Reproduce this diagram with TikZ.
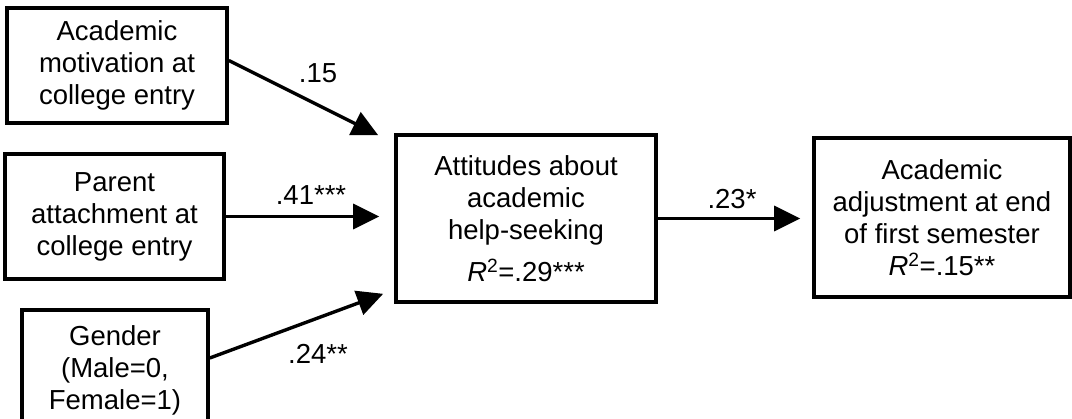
\documentclass[tikz,border=0pt]{standalone}
\usepackage{fontspec}
\setmainfont{Liberation Sans}
\usepackage{tikz}
\usetikzlibrary{arrows.meta}

\begin{document}
\begin{tikzpicture}[x=1pt,y=-1pt,
    caja/.style={draw,line width=3.6pt,inner sep=0pt,align=center,font=\fontsize{27.5}{32}\selectfont},
    flecha/.style={line width=3.4pt,-{Triangle[length=26pt,width=25pt]}},
    etiq/.style={font=\fontsize{27.5}{32}\selectfont}]
    \useasboundingbox (0,0) rectangle (1072,419); %Marco de la figura

    %Cajas de la izquierda
    \node[caja,minimum width=220pt,minimum height=115pt] (motiv) at (117,65.5) {Academic\\motivation at\\college entry}; %Motivacion
    \node[caja,minimum width=219pt,minimum height=125pt] (parent) at (114.5,216.5) {Parent\\attachment at\\college entry}; %Apego
    \node[caja,minimum width=186pt,minimum height=120pt] (gender) at (115,370) {Gender\\(Male=0,\\Female=1)}; %Genero

    %Cajas del centro y la derecha
    \node[caja,minimum width=260pt,minimum height=167pt] (attit) at (526,218.5) {Attitudes about\\academic\\help-seeking\\[10pt]\textit{R}\textsuperscript{2}=.29***}; %Actitudes
    \node[caja,minimum width=256pt,minimum height=159pt] (adjust) at (942,217.5) {Academic\\adjustment at end\\of first semester\\\textit{R}\textsuperscript{2}=.15**}; %Ajuste

    %Flechas
    \draw[flecha] ([yshift=5pt]motiv.east) -- ([xshift=-16pt,yshift=-2pt]attit.north west); %motiv a attit
    \draw[flecha,shorten >=15pt] (parent.east) -- (parent.east -| attit.west); %parent a attit
    \draw[flecha] ([yshift=12pt]gender.east) -- ([xshift=-11pt,yshift=10pt]attit.south west); %gender a attit
    \draw[flecha,shorten >=12pt] (attit.east) -- (attit.east -| adjust.west); %attit a adjust

    %Coeficientes
    \node[etiq] (c15) at (318,73) {.15}; %Etiqueta motiv
    \node[etiq] (c41) at (311,195) {.41***}; %Etiqueta parent
    \node[etiq] (c24) at (318,354) {.24**}; %Etiqueta gender
    \node[etiq] (c23) at (732,199) {.23*}; %Etiqueta attit
\end{tikzpicture}
\end{document}
